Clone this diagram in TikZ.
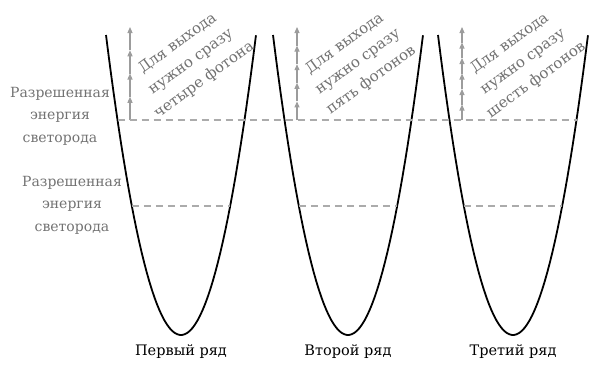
\documentclass[tikz,border=0pt]{standalone}
\usepackage{fontspec}
\setmainfont{DejaVu Serif}
\usetikzlibrary{arrows.meta}

\definecolor{notegray}{HTML}{727272}
\definecolor{levelgray}{HTML}{ABABAB}
\definecolor{photongray}{HTML}{9C9C9C}

\tikzset{
	well/.style={line width=1.8pt, black},
	level/.style={levelgray, line width=1.4pt, dash pattern=on 7pt off 5pt},
	photon/.style={photongray, line width=1.1pt, -{Triangle[length=6pt,width=5pt]}},
	note/.style={notegray, font=\fontsize{14}{22.5}\selectfont, align=center},
	exitnote/.style={note, font=\fontsize{15}{22.5}\selectfont, rotate=36},
	rowlabel/.style={black, font=\fontsize{14.5}{16}\selectfont},
}

\begin{document}
\begin{tikzpicture}[x=1pt,y=-1pt]
			\useasboundingbox (0,0) rectangle (602,380);
			% three wells, one per row
			\foreach \c/\k/\row/\what [count=\i] in {181/4/Первый ряд/четыре фотона,348/5/Второй ряд/пять фотонов,513/6/Третий ряд/шесть фотонов}{
				\draw[well] plot[domain=-1:1,samples=60] ({\c+75*\x},{335-300*\x*\x});
				\coordinate (lo\i) at ({\c-49.2},206);
				\coordinate (ro\i) at ({\c+49.2},206);
				\draw[level] (lo\i) -- (ro\i);
				%
				\foreach \j in {1,...,\k}
					\draw[photon] ({\c-51},{120-93*(\j-1)/\k}) -- ({\c-51},{120-93*\j/\k});
				\node[exitnote] (note\i) at ({\c+10},62) {Для выхода\\нужно сразу\\\what};
				\node[rowlabel] (row\i) at (\c,352) {\row};
			}
			% upper level across all rows
			\coordinate (hiL) at (117.5,120);
			\coordinate (hiR) at (576.5,120);
			\draw[level] (hiL) -- (hiR);
			%
			\node[note] (allowedhi) at (60,116) {Разрешенная\\энергия\\светорода};
			\node[note] (allowedlo) at (72,205) {Разрешенная\\энергия\\светорода};
		\end{tikzpicture}
\end{document}
